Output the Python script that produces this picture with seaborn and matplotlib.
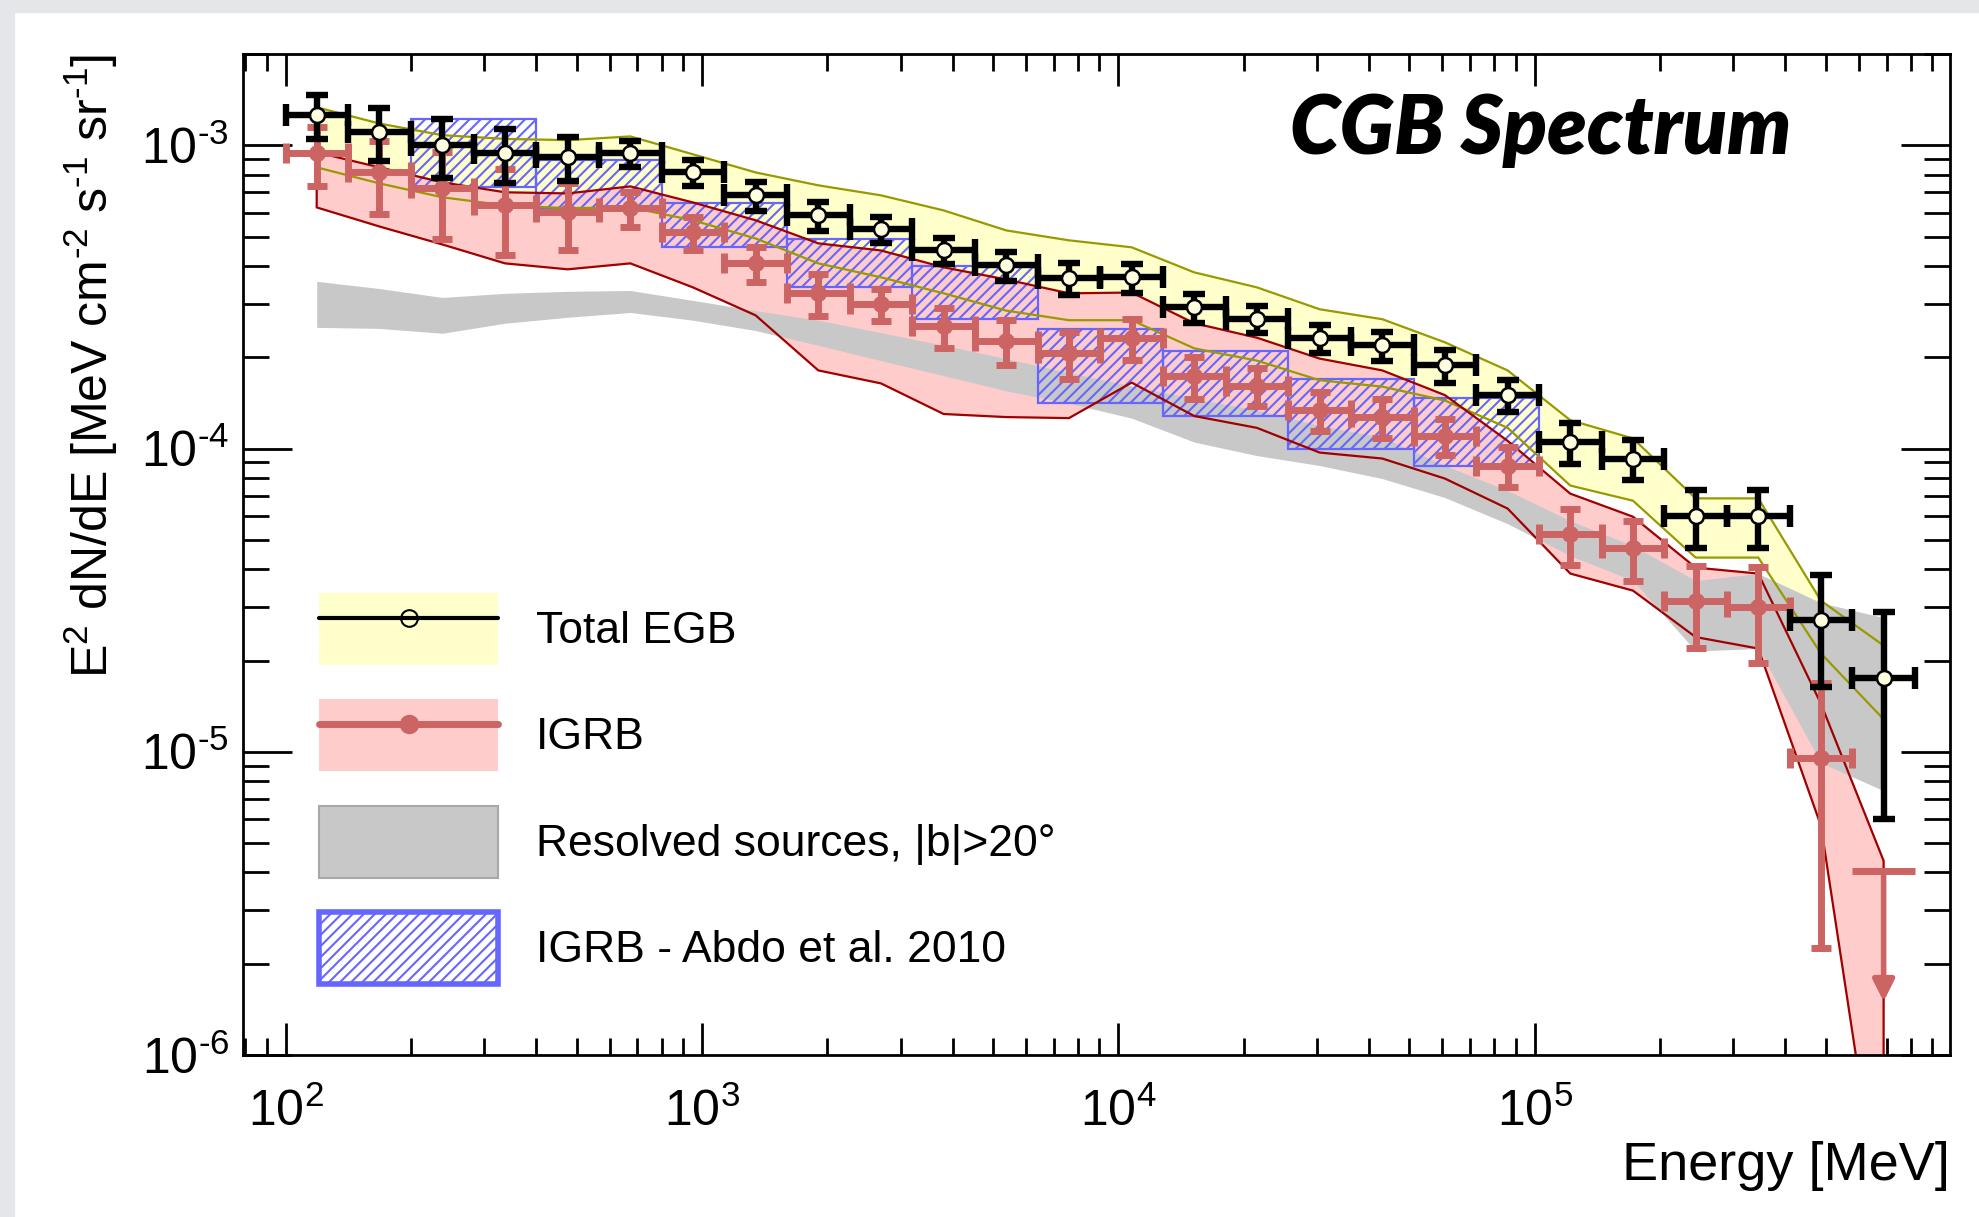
#!/usr/bin/env python3
"""CGB spectrum: total EGB, IGRB, resolved sources and the 2010 IGRB measurement."""

import matplotlib

matplotlib.use("Agg")

import matplotlib.pyplot as plt
import matplotlib.ticker as mticker
import numpy as np
import seaborn as sns
from matplotlib.lines import Line2D
from matplotlib.patches import Patch, Rectangle

# energy bin edges [MeV]
EDGES = [100, 141, 200, 283, 400, 566, 800, 1131, 1600, 2263, 3200, 4525, 6400,
         9051, 12800, 18102, 25600, 36204, 51200, 72408, 102400, 144815, 204800,
         289631, 409600, 579262, 819200]

# total EGB points, E^2 dN/dE [MeV cm^-2 s^-1 sr^-1]
EGB = [1.26e-3, 1.11e-3, 1.00e-3, 9.41e-4, 9.13e-4, 9.41e-4, 8.14e-4, 6.84e-4, 5.87e-4,
       5.28e-4, 4.50e-4, 4.02e-4, 3.64e-4, 3.67e-4, 2.92e-4, 2.68e-4, 2.31e-4, 2.19e-4,
       1.88e-4, 1.50e-4, 1.05e-4, 9.27e-5, 6.01e-5, 6.01e-5, 2.73e-5, 1.75e-5]
EGB_ERR = [2.1e-4, 2.2e-4, 2.2e-4, 1.9e-4, 1.5e-4, 9.4e-5, 8.1e-5, 7.5e-5, 6.5e-5, 5.3e-5,
           4.5e-5, 4.4e-5, 4.4e-5, 4.0e-5, 3.2e-5, 2.7e-5, 2.5e-5, 2.4e-5, 2.3e-5, 1.8e-5,
           1.6e-5, 1.4e-5, 1.3e-5, 1.3e-5, 1.1e-5, 1.15e-5]
EGB_HI = [1.335e-3, 1.18e-3, 1.08e-3, 1.05e-3, 1.04e-3, 1.07e-3, 9.34e-4, 8.14e-4, 7.38e-4,
          6.84e-4, 6.10e-4, 5.24e-4, 4.86e-4, 4.61e-4, 3.81e-4, 3.40e-4, 2.88e-4, 2.67e-4,
          2.24e-4, 1.81e-4, 1.24e-4, 1.08e-4, 6.85e-5, 6.85e-5, 3.15e-5, 2.24e-5]
EGB_LO = [8.46e-4, 7.49e-4, 6.74e-4, 6.34e-4, 6.20e-4, 6.24e-4, 5.66e-4, 4.93e-4, 4.08e-4,
          3.67e-4, 3.25e-4, 2.85e-4, 2.65e-4, 2.65e-4, 2.14e-4, 1.95e-4, 1.68e-4, 1.60e-4,
          1.44e-4, 1.17e-4, 7.55e-5, 6.73e-5, 4.37e-5, 4.37e-5, 2.11e-5, 1.28e-5]

# IGRB points (last bin is an upper limit)
IGRB = [9.41e-4, 8.14e-4, 7.21e-4, 6.34e-4, 6.01e-4, 6.20e-4, 5.16e-4, 4.08e-4, 3.25e-4,
        2.99e-4, 2.53e-4, 2.27e-4, 2.06e-4, 2.32e-4, 1.73e-4, 1.61e-4, 1.34e-4, 1.27e-4,
        1.10e-4, 8.79e-5, 5.24e-5, 4.71e-5, 3.15e-5, 3.01e-5, 9.55e-6]
IGRB_ERR = [2.05e-4, 2.2e-4, 2.3e-4, 2.0e-4, 1.5e-4, 8.2e-5, 6.6e-5, 5.4e-5, 5.1e-5, 3.6e-5,
            3.8e-5, 3.8e-5, 3.6e-5, 3.6e-5, 2.7e-5, 2.3e-5, 2.0e-5, 1.9e-5, 1.5e-5, 1.35e-5,
            1.1e-5, 1.05e-5, 9.5e-6, 1.05e-5, 7.3e-6]
IGRB_UL = 4.05e-6
IGRB_HI = [9.48e-4, 8.46e-4, 7.55e-4, 7.00e-4, 6.94e-4, 7.32e-4, 6.48e-4, 5.66e-4, 4.75e-4,
           4.50e-4, 3.96e-4, 3.61e-4, 3.25e-4, 3.27e-4, 2.59e-4, 2.32e-4, 1.98e-4, 1.81e-4,
           1.50e-4, 1.06e-4, 7.10e-5, 5.96e-5, 4.05e-5, 3.87e-5, 1.44e-5, 4.37e-6]
IGRB_LO = [6.24e-4, 5.40e-4, 4.71e-4, 4.08e-4, 3.90e-4, 4.08e-4, 3.40e-4, 2.75e-4, 1.81e-4,
           1.64e-4, 1.30e-4, 1.27e-4, 1.26e-4, 1.65e-4, 1.28e-4, 1.17e-4, 9.70e-5, 9.27e-5,
           7.96e-5, 6.34e-5, 3.87e-5, 3.40e-5, 2.39e-5, 2.19e-5, 5.70e-6, 2.5e-7]

# resolved sources |b|>20 deg, band
RES_HI = [3.56e-4, 3.37e-4, 3.15e-4, 3.25e-4, 3.30e-4, 3.32e-4, 3.08e-4, 2.85e-4, 2.65e-4,
          2.41e-4, 2.19e-4, 1.98e-4, 1.78e-4, 1.61e-4, 1.46e-4, 1.34e-4, 1.19e-4, 1.09e-4,
          8.79e-5, 7.27e-5, 5.78e-5, 4.78e-5, 3.67e-5, 3.87e-5, 3.10e-5, 2.77e-5]
RES_LO = [2.51e-4, 2.49e-4, 2.40e-4, 2.59e-4, 2.71e-4, 2.81e-4, 2.65e-4, 2.45e-4, 2.19e-4,
          1.95e-4, 1.74e-4, 1.55e-4, 1.41e-4, 1.26e-4, 1.05e-4, 9.48e-5, 8.79e-5, 7.96e-5,
          6.89e-5, 5.65e-5, 4.43e-5, 3.67e-5, 2.15e-5, 2.19e-5, 9.20e-6, 7.44e-6]

# IGRB - Abdo et al. 2010 boxes
ABDO_E_LO = [200, 400, 800, 1600, 3200, 6400, 12800, 25600, 51200]
ABDO_E_HI = [400, 800, 1600, 3200, 6400, 12800, 25600, 51200, 102400]
ABDO_TOP = [1.22e-3, 8.92e-4, 6.43e-4, 4.90e-4, 3.99e-4, 2.47e-4, 2.09e-4, 1.69e-4, 1.47e-4]
ABDO_BOT = [7.27e-4, 6.20e-4, 4.61e-4, 3.40e-4, 2.68e-4, 1.41e-4, 1.28e-4, 1.00e-4, 8.79e-5]

YELLOW = "#ffffcc"
OLIVE = "#999900"
PINK = "#ffcccc"
DARKRED = "#a00000"
RED = "#cd6464"
GREY = "#c8c8c8"
BLUE = "#6666ff"
HYPHEN = "\u2010"  # short hyphen in exponents, like the original


def outline(ax, x, hi, lo, color, z):
    xs = np.concatenate([x, x[::-1], x[:1]])
    ys = np.concatenate([hi, lo[::-1], hi[:1]])
    sns.lineplot(x=xs, y=ys, sort=False, estimator=None, color=color, lw=1.6,
                 ax=ax, zorder=z)


def pow10_label(v, pos):
    exp = int(round(np.log10(v)))
    return "$10^{%s}$" % str(exp).replace("-", HYPHEN)


def main():
    sns.set_theme(style="ticks")
    plt.rcParams["font.family"] = ["Liberation Sans", "DejaVu Sans"]
    plt.rcParams["mathtext.fontset"] = "custom"
    plt.rcParams["mathtext.rm"] = "Liberation Sans"
    plt.rcParams["mathtext.default"] = "regular"
    plt.rcParams["hatch.linewidth"] = 1.5
    plt.rcParams["axes.unicode_minus"] = False
    for key in ("text.color", "axes.labelcolor", "xtick.color", "ytick.color"):
        plt.rcParams[key] = "black"

    edges = np.array(EDGES, dtype=float)
    e_lo, e_hi = edges[:-1], edges[1:]
    ec = np.sqrt(e_lo * e_hi)

    fig = plt.figure(figsize=(19.79, 12.17), dpi=100)
    fig.patch.set_facecolor("white")
    # slide-like grey margin at the top and left
    fig.patches.append(Rectangle((0, 1 - 12 / 1217), 1, 12 / 1217, transform=fig.transFigure,
                                 color="#e4e6e9", zorder=0))
    fig.patches.append(Rectangle((0, 0), 14 / 1979, 1, transform=fig.transFigure,
                                 color="#e4e6e9", zorder=0))

    ax = fig.add_axes([0.1228, 0.1331, 0.8626, 0.8225])
    ax.set_xscale("log")
    ax.set_yscale("log")
    ax.set_facecolor("white")

    # bands
    ax.fill_between(ec, EGB_LO, EGB_HI, color=YELLOW, lw=0, zorder=1)
    ax.fill_between(ec, IGRB_LO, IGRB_HI, color=PINK, lw=0, zorder=1.1)
    ax.fill_between(ec, RES_LO, RES_HI, color=GREY, lw=0, zorder=1.2)

    # Abdo et al. 2010 hatched boxes
    ax.bar(ABDO_E_LO, np.array(ABDO_TOP) - np.array(ABDO_BOT), bottom=ABDO_BOT,
           width=np.array(ABDO_E_HI) - np.array(ABDO_E_LO), align="edge",
           facecolor="none", edgecolor=BLUE, hatch="///", lw=1.6, zorder=1.5)

    outline(ax, ec, np.array(EGB_HI), np.array(EGB_LO), OLIVE, 1.6)
    outline(ax, ec, np.array(IGRB_HI), np.array(IGRB_LO), DARKRED, 1.7)

    # IGRB points
    n = len(IGRB)
    ax.errorbar(ec[:n], IGRB, yerr=IGRB_ERR, xerr=[ec[:n] - e_lo[:n], e_hi[:n] - ec[:n]],
                fmt="none", ecolor=RED, elinewidth=5, capsize=7, capthick=5, zorder=3)
    sns.scatterplot(x=ec[:n], y=IGRB, marker="o", s=150, color=RED, edgecolor=RED,
                    linewidth=0, ax=ax, zorder=3.5)
    ax.errorbar(ec[n:], [IGRB_UL], xerr=[ec[n:] - e_lo[n:], e_hi[n:] - ec[n:]],
                fmt="none", ecolor=RED, elinewidth=5, capsize=0, zorder=3)
    ax.annotate("", xy=(ec[n], 1.5e-6), xytext=(ec[n], IGRB_UL),
                arrowprops=dict(arrowstyle="-|>", color=RED, lw=4, shrinkA=0, shrinkB=0,
                                mutation_scale=32), zorder=3)

    # total EGB points
    ax.errorbar(ec, EGB, yerr=EGB_ERR, xerr=[ec - e_lo, e_hi - ec], fmt="none",
                ecolor="black", elinewidth=4.6, capsize=8, capthick=4.6, zorder=4)
    sns.scatterplot(x=ec, y=EGB, marker="o", s=115, color="#ffffe0", edgecolor="black",
                    linewidth=1.8, ax=ax, zorder=4.5)

    ax.set_xlim(79, 9.95e5)
    ax.set_ylim(1e-6, 2e-3)

    ax.xaxis.set_major_locator(mticker.LogLocator(base=10, numticks=12))
    ax.xaxis.set_minor_locator(mticker.LogLocator(base=10, subs=np.arange(2, 10), numticks=12))
    ax.yaxis.set_major_locator(mticker.LogLocator(base=10, numticks=12))
    ax.yaxis.set_minor_locator(mticker.LogLocator(base=10, subs=np.arange(2, 10), numticks=12))
    ax.xaxis.set_major_formatter(mticker.FuncFormatter(pow10_label))
    ax.yaxis.set_major_formatter(mticker.FuncFormatter(pow10_label))
    ax.xaxis.set_minor_formatter(mticker.NullFormatter())
    ax.yaxis.set_minor_formatter(mticker.NullFormatter())

    ax.tick_params(which="both", direction="in", top=True, right=True, colors="black",
                   labelsize=36, width=2)
    ax.tick_params(axis="y", which="major", length=35, pad=10)
    ax.tick_params(axis="y", which="minor", length=18.5)
    ax.tick_params(axis="x", which="major", length=23, pad=24)
    ax.tick_params(axis="x", which="minor", length=12)
    for sp in ax.spines.values():
        sp.set_linewidth(2)
        sp.set_color("black")
    ax.grid(False)

    ylabel = "E$^{2}$ dN/dE [MeV cm$^{-2}$ s$^{-1}$ sr$^{-1}$]".replace("-", HYPHEN)
    ax.set_ylabel(ylabel, fontsize=36, loc="top")
    ax.yaxis.set_label_coords(-0.072, 1.0)
    ax.set_xlabel("Energy [MeV]", fontsize=39, loc="right")
    ax.xaxis.set_label_coords(1.0, -0.086)

    ax.text(0.760, 0.900, "CGB Spectrum", transform=ax.transAxes, ha="center",
            va="baseline", fontsize=58, fontweight="heavy", fontstyle="italic",
            color="black", family=["Lato", "DejaVu Sans"], zorder=6)

    handles = [
        (Patch(facecolor=YELLOW, edgecolor="none"),
         Line2D([], [], color="black", lw=3, marker="o", ms=12, mfc="none", mec="black",
                mew=1.5)),
        (Patch(facecolor=PINK, edgecolor="none"),
         Line2D([], [], color=RED, lw=5, marker="o", ms=13, mfc=RED, mec=RED)),
        Patch(facecolor=GREY, edgecolor="#a8a8a8", lw=1.5),
        Patch(facecolor="white", edgecolor=BLUE, hatch="///", lw=4),
    ]
    labels = ["Total EGB", "IGRB", "Resolved sources, |b|>20\u00b0", "IGRB - Abdo et al. 2010"]
    ax.legend(handles, labels, loc="upper left", bbox_to_anchor=(0.0445, 0.4615),
              frameon=False, fontsize=32, borderaxespad=0, borderpad=0,
              handlelength=4.03, handleheight=2.116, labelspacing=0.77, handletextpad=0.85)

    fig.savefig("out.png", dpi=100, facecolor="white")
    plt.close(fig)


if __name__ == "__main__":
    main()
